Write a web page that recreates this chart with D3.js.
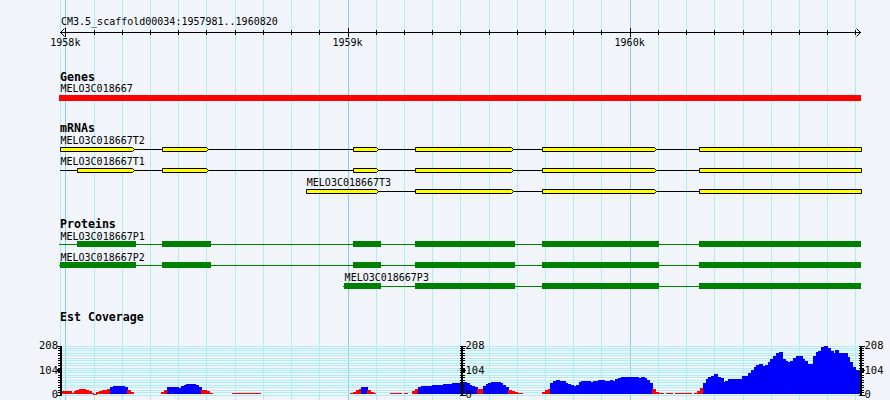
<!DOCTYPE html>
<html><head><meta charset="utf-8">
<script src="https://cdn.jsdelivr.net/npm/d3@7/dist/d3.min.js"></script>
<style>
html,body{margin:0;padding:0;background:#f1f4f9;}
svg{display:block;}
text{font-family:"DejaVu Sans Mono",monospace;}
</style></head>
<body><svg id="chart" width="890" height="400"></svg>
<script>
// ---------------- data ----------------
const refName = "CM3.5_scaffold00034";
const regionStart = 1957981;
const regionEnd = 1960820;
const tickLabels = ["1958k", "1959k", "1960k"];
const trackTitles = ["Genes", "mRNAs", "Proteins", "Est Coverage"];

const geneNames = ["MELO3C018667"];
const geneSpans = [[1957981, 1960820]];

const mrnaNames = ["MELO3C018667T2", "MELO3C018667T1", "MELO3C018667T3"];
const mrnaSpans = [[1957981, 1960820], [1957981, 1960820], [1958854, 1960820]];
const mrnaExons = [
  [[1957981, 1958239], [1958344, 1958501], [1959020, 1959106], [1959240, 1959582], [1959690, 1960090], [1960247, 1960820]],
  [[1958042, 1958239], [1958344, 1958501], [1959020, 1959106], [1959240, 1959582], [1959690, 1960090], [1960247, 1960820]],
  [[1958854, 1959106], [1959240, 1959582], [1959690, 1960090], [1960247, 1960820]]
];

const proteinNames = ["MELO3C018667P1", "MELO3C018667P2", "MELO3C018667P3"];
const proteinSpans = [[1957981, 1960820], [1957981, 1960820], [1958988, 1960820]];
const proteinCDS = [
  [[1958042, 1958250], [1958344, 1958516], [1959020, 1959119], [1959240, 1959594], [1959690, 1960104], [1960247, 1960820]],
  [[1957981, 1958250], [1958344, 1958516], [1959020, 1959119], [1959240, 1959594], [1959690, 1960104], [1960247, 1960820]],
  [[1958988, 1959119], [1959240, 1959594], [1959690, 1960104], [1960247, 1960820]]
];

// EST coverage, 10 bp bins starting at regionStart
const coverageBin = 10;
const coverageMax = 208;
const coverageLabels = ["0", "104", "208"];
const coverageThreshold = 25;
const coverage = [
  8, 12, 14, 12, 4, 14, 19, 21, 21, 19,
  14, 4, 2, 9, 13, 16, 19, 22, 29, 32,
  34, 35, 35, 30, 18, 10, 0, 0, 0, 0,
  0, 0, 0, 0, 0, 0, 8, 18, 30, 30,
  31, 28, 27, 33, 40, 42, 42, 41, 38, 30,
  16, 15, 14, 6, 0, 0, 0, 0, 0, 0,
  0, 5, 5, 5, 5, 5, 5, 5, 5, 5,
  5, 0, 0, 0, 0, 0, 0, 0, 0, 0,
  0, 0, 0, 0, 0, 0, 0, 0, 0, 0,
  0, 0, 0, 0, 0, 0, 0, 0, 0, 0,
  0, 0, 0, 6, 10, 15, 22, 28, 28, 16,
  10, 5, 0, 0, 0, 0, 0, 4, 4, 4,
  4, 0, 4, 0, 0, 12, 22, 30, 32, 32,
  33, 35, 37, 38, 38, 40, 42, 43, 44, 46,
  47, 48, 47, 49, 47, 40, 34, 28, 21, 22,
  35, 42, 48, 52, 52, 51, 46, 40, 30, 15,
  12, 10, 4, 4, 0, 0, 0, 0, 0, 0,
  0, 8, 15, 22, 45, 57, 58, 56, 55, 48,
  44, 38, 36, 40, 50, 54, 55, 54, 53, 54,
  55, 58, 60, 56, 57, 58, 57, 62, 70, 72,
  74, 73, 72, 71, 72, 70, 71, 70, 60, 45,
  20, 10, 4, 4, 0, 4, 4, 0, 4, 4,
  4, 4, 4, 4, 0, 3, 14, 24, 45, 62,
  72, 78, 83, 74, 68, 50, 55, 64, 64, 65,
  64, 64, 75, 78, 88, 102, 115, 122, 127, 119,
  125, 136, 150, 160, 172, 180, 150, 138, 137, 140,
  151, 160, 160, 150, 138, 127, 127, 160, 178, 182,
  200, 204, 196, 182, 176, 185, 173, 172, 172, 156,
  135, 115, 102, 97
];

// ---------------- drawing ----------------
const W = 890, H = 400;
const svg = d3.select("#chart");
const x = d3.scaleLinear().domain([regionStart, regionEnd]).range([60, 861]);

const gridColor = "#aeeef2", majorGridColor = "#8ccbe2";

// vertical grid every 100 bp (plus region start)
const minorTicks = d3.range(Math.ceil(regionStart / 100) * 100, regionEnd + 1, 100);
const gGrid = svg.append("g").attr("shape-rendering", "crispEdges");
gGrid.append("line").attr("x1", Math.round(x(regionStart)) + 0.5).attr("x2", Math.round(x(regionStart)) + 0.5)
  .attr("y1", 0).attr("y2", H).attr("stroke", gridColor);
gGrid.selectAll("line.v").data(minorTicks).enter().append("line")
  .attr("class", "v")
  .attr("x1", d => Math.round(x(d)) + 0.5).attr("x2", d => Math.round(x(d)) + 0.5)
  .attr("y1", 0).attr("y2", H)
  .attr("stroke", d => d % 1000 === 0 ? majorGridColor : gridColor)
  .attr("stroke-width", 1);

// coverage y scale and horizontal grid
const y = d3.scaleLinear().domain([0, coverageMax]).range([394.5, 345.5]);
const yTicks = d3.range(0, 20 + 1).map(i => i * coverageMax / 20);
gGrid.selectAll("line.h").data(yTicks).enter().append("line")
  .attr("class", "h")
  .attr("x1", 60).attr("x2", 861)
  .attr("y1", d => Math.round(y(d)) + 0.5).attr("y2", d => Math.round(y(d)) + 0.5)
  .attr("stroke", gridColor);

// ruler
const ruler = svg.append("g");
ruler.append("text").attr("x", 61).attr("y", 25).attr("font-size", 10).attr("fill", "#000")
  .text(refName + ":" + regionStart + ".." + regionEnd);
ruler.append("line").attr("x1", x(regionStart)).attr("x2", x(regionEnd))
  .attr("y1", 32.5).attr("y2", 32.5).attr("stroke", "#000").attr("shape-rendering", "crispEdges");
ruler.append("path").attr("d", `M${x(regionStart) + 4.5},28.5 L${x(regionStart) + 0.5},32.5 L${x(regionStart) + 4.5},36.5`)
  .attr("fill", "none").attr("stroke", "#000");
ruler.append("path").attr("d", `M${x(regionEnd) - 4.5},28.5 L${x(regionEnd) - 0.5},32.5 L${x(regionEnd) - 4.5},36.5`)
  .attr("fill", "none").attr("stroke", "#000");
ruler.selectAll("line.t").data(minorTicks).enter().append("line")
  .attr("class", "t").attr("shape-rendering", "crispEdges")
  .attr("x1", d => Math.round(x(d)) + 0.5).attr("x2", d => Math.round(x(d)) + 0.5)
  .attr("y1", d => d % 1000 === 0 ? 28 : 30).attr("y2", d => d % 1000 === 0 ? 37 : 35)
  .attr("stroke", "#000");
const majorTicks = minorTicks.filter(d => d % 1000 === 0);
ruler.selectAll("text.t").data(majorTicks).enter().append("text")
  .attr("class", "t")
  .attr("x", d => x(d)).attr("y", 46).attr("text-anchor", "middle")
  .attr("font-size", 10).text((d, i) => tickLabels[i]);

function title(txt, yy) {
  svg.append("text").attr("x", 60).attr("y", yy).attr("font-size", 11.6)
    .attr("font-weight", "bold").text(txt);
}
function label(txt, xx, yy) {
  svg.append("text").attr("x", xx).attr("y", yy).attr("font-size", 10).text(txt);
}

// Genes
title(trackTitles[0], 80.5);
geneNames.forEach((n, i) => {
  label(n, x(geneSpans[i][0]) + 0.5, 92);
  svg.append("rect").attr("x", x(geneSpans[i][0]) - 1).attr("y", 95)
    .attr("width", x(geneSpans[i][1]) - x(geneSpans[i][0]) + 1).attr("height", 6)
    .attr("fill", "#ff0000").attr("shape-rendering", "crispEdges");
});

// mRNAs
title(trackTitles[1], 132);
const mrnaRowY = [149.5, 170.5, 191.5];
const mrnaLabelY = [144, 165, 186];
mrnaNames.forEach((n, i) => {
  const cy = mrnaRowY[i];
  const g = svg.append("g");
  label(n, x(mrnaSpans[i][0]) + 0.5, mrnaLabelY[i]);
  g.append("line").attr("x1", x(mrnaSpans[i][0])).attr("x2", x(mrnaSpans[i][1]))
    .attr("y1", cy).attr("y2", cy).attr("stroke", "#000").attr("shape-rendering", "crispEdges");
  g.selectAll("path").data(mrnaExons[i]).enter().append("path")
    .attr("d", d => {
      const x0 = Math.round(x(d[0])) + 0.5, x1 = Math.round(x(d[1])) - 0.5;
      const t = cy - 2, b = cy + 2;
      if (d[1] >= regionEnd) return `M${x0},${t}L${x1 + 1},${t}L${x1 + 1},${b}L${x0},${b}Z`;
      return `M${x0},${t}L${x1},${t}L${x1 + 2},${cy}L${x1},${b}L${x0},${b}Z`;
    })
    .attr("fill", "#ffff00").attr("stroke", "#000").attr("stroke-width", 1);
});

// Proteins
title(trackTitles[2], 227.5);
const protRowY = [244.5, 265.5, 286.5];
const protLabelY = [239.5, 260.5, 281];
proteinNames.forEach((n, i) => {
  const cy = protRowY[i];
  const g = svg.append("g").attr("shape-rendering", "crispEdges");
  label(n, x(proteinSpans[i][0]) + 0.5, protLabelY[i]);
  g.append("line").attr("x1", x(proteinSpans[i][0]) - 1).attr("x2", x(proteinSpans[i][1]))
    .attr("y1", cy).attr("y2", cy).attr("stroke", "#008000").attr("stroke-width", 1);
  g.selectAll("rect").data(proteinCDS[i]).enter().append("rect")
    .attr("x", d => x(d[0])).attr("width", d => x(d[1]) - x(d[0]))
    .attr("y", cy - 3.5).attr("height", 6).attr("fill", "#008000");
});

// Est Coverage
title(trackTitles[3], 321);
const cov = svg.append("g").attr("shape-rendering", "crispEdges");
cov.selectAll("rect").data(coverage).enter().append("rect")
  .attr("x", (d, i) => Math.floor(x(regionStart + i * coverageBin)))
  .attr("width", (d, i) => Math.ceil(x(Math.min(regionEnd, regionStart + (i + 1) * coverageBin))) - Math.floor(x(regionStart + i * coverageBin)))
  .attr("y", d => Math.round(y(d) - 0.5))
  .attr("height", d => d > 0 ? Math.max(1, Math.round(y(0) - y(d))) : 0)
  .attr("fill", d => d >= coverageThreshold ? "#0000ff" : "#ff0000");

// coverage axes (left, middle, right)
const axisDefs = [
  { ax: 60.5, side: "left" },
  { ax: 461.5, side: "right" },
  { ax: 860.5, side: "right" }
];
const labelVals = coverageLabels.map(Number);
axisDefs.forEach(a => {
  const g = svg.append("g").attr("shape-rendering", "crispEdges");
  g.append("rect").attr("x", a.ax - 0.5).attr("y", Math.round(y(coverageMax)))
    .attr("width", 2).attr("height", Math.round(y(0)) - Math.round(y(coverageMax)) + 1)
    .attr("fill", "#000");
  g.selectAll("line.tk").data(yTicks).enter().append("line")
    .attr("class", "tk")
    .attr("x1", a.side === "left" ? a.ax - 3 : a.ax - 1.5)
    .attr("x2", a.side === "left" ? a.ax + 1 : a.ax + 3.5)
    .attr("y1", d => Math.round(y(d)) + 0.5).attr("y2", d => Math.round(y(d)) + 0.5)
    .attr("stroke", "#000");
  g.selectAll("line.mj").data(labelVals).enter().append("line")
    .attr("class", "mj")
    .attr("x1", a.side === "left" ? a.ax - 4 : a.ax - 1)
    .attr("x2", a.side === "left" ? a.ax + 1 : a.ax + 4)
    .attr("y1", d => Math.round(y(d)) + 0.5).attr("y2", d => Math.round(y(d)) + 0.5)
    .attr("stroke", "#000").attr("stroke-width", 1);
  g.append("rect").attr("x", a.side === "left" ? a.ax - 3.5 : a.ax + 0.5).attr("y", Math.round(y(coverageMax / 2)) - 1)
    .attr("width", 3).attr("height", 3).attr("fill", "#000");
  g.selectAll("text").data(coverageLabels).enter().append("text")
    .attr("x", a.side === "left" ? a.ax - 2.5 : a.ax + 4)
    .attr("y", d => y(+d) + 3.8)
    .attr("text-anchor", a.side === "left" ? "end" : "start")
    .attr("font-size", 10.5).text(d => d);
});
</script>
</body></html>
